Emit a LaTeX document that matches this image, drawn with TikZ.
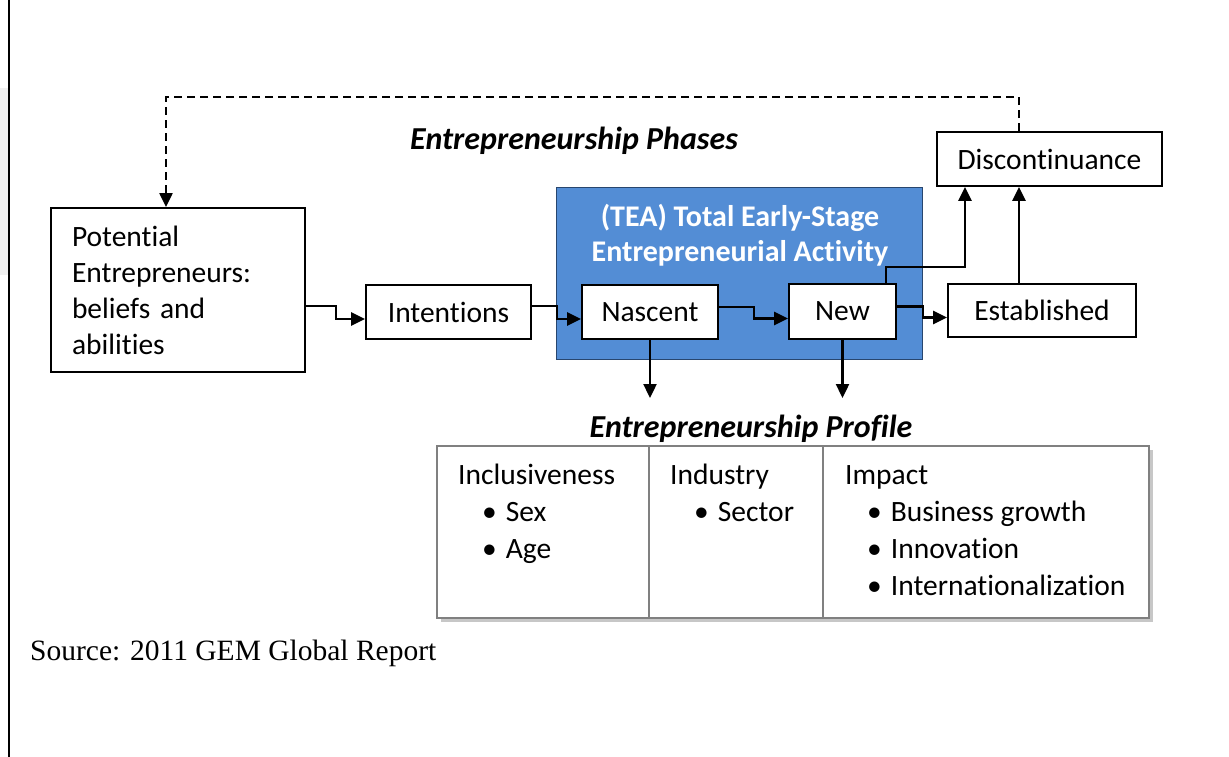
\documentclass[tikz,border=0pt]{standalone}
\usepackage{fontspec}
\setmainfont{Carlito}[Ligatures=NoCommon]
\newfontfamily\srcfont{Liberation Serif}[Ligatures=NoCommon]
\usetikzlibrary{arrows.meta,calc}
\definecolor{teablue}{RGB}{83,141,213}
\definecolor{teaedge}{RGB}{40,70,110}
\tikzset{
  box/.style={draw=black,line width=1.8pt,fill=white,inner sep=0pt,font=\fontsize{29.5}{36}\selectfont},
  arr/.style={line width=2.4pt,-{Triangle[length=14pt,width=13pt]}},
  ttl/.style={font=\fontsize{32}{38}\selectfont\bfseries\itshape,inner sep=0pt},
  ptxt/.style={font=\fontsize{29.5}{36}\selectfont,inner sep=0pt,anchor=base west},
}
\begin{document}
\begin{tikzpicture}[x=1pt,y=-1pt]
\useasboundingbox (0,0) rectangle (1229,757);
\fill[white] (0,0) rectangle (1229,757);
\fill[black!6] (0,88) rectangle (8,275);
\draw[line width=2pt] (9,0) -- (9,757);

% blue TEA box
\node[draw=teaedge,line width=1pt,fill=teablue,minimum width=366pt,minimum height=172pt,inner sep=0pt] (tea) at (739,273) {};
\node[font=\fontsize{30}{35}\selectfont\bfseries,text=white,align=center,inner sep=0pt] (teat) at (740,235) {(TEA) Total Early-Stage\\Entrepreneurial Activity};

\node[ttl] (phases) at (574,141) {Entrepreneurship Phases};

\node[box,minimum width=254pt,minimum height=164pt,text width=212pt,align=left,font=\fontsize{29.5}{36}\selectfont] (pot) at (178,290) {Potential\\Entrepreneurs:\\beliefs and\\abilities};
\node[box,minimum width=165pt,minimum height=54pt] (int) at (448.5,312) {Intentions};
\node[box,minimum width=136pt,minimum height=54pt] (nas) at (650,312) {Nascent};
\node[box,minimum width=107pt,minimum height=55pt] (new) at (842.5,311.5) {New};
\node[box,minimum width=188pt,minimum height=53pt] (est) at (1042,310.5) {Established};
\node[box,minimum width=225pt,minimum height=54pt] (dis) at (1049.5,159) {Discontinuance};

% connectors
\draw[arr] ([yshift=-16pt]pot.east) -- ++(30,0) |- ([yshift=-7pt]int.west);
\draw[arr] ([yshift=6pt]int.east) -- ++(25,0) |- ([yshift=-7pt]nas.west);
\draw[arr] ([yshift=5pt]nas.east) -- ++(35,0) |- ([yshift=-7pt]new.west);
\draw[arr] ([yshift=5pt]new.east) -- ++(26,0) |- ([yshift=-7pt]est.west);
\draw[arr] ([xshift=-11pt]new.north east) -- ++(0,-16) -| ([xshift=-84.5pt]dis.south);
\draw[arr] ([xshift=-23pt]est.north) -- ([xshift=-30.5pt]dis.south);
\coordinate (nd) at (650,398);
\coordinate (wd) at (842.5,398);
\draw[arr] (nas.south) -- (nd);
\draw[arr] (new.south) -- (wd);
\draw[line width=2.2pt,dash pattern=on 8pt off 5pt,-{Triangle[length=14pt,width=13pt]}] ([xshift=-30.5pt]dis.north) -- ++(0,-34) -| ([xshift=-12pt]pot.north);

% profile
\node[ttl] (prof) at (751,429) {Entrepreneurship Profile};
\fill[black!22] (441,450) rectangle (1153,622);
\draw[draw=black!50,line width=2.2pt,fill=white] (437,446) rectangle (1149,618);
\draw[draw=black!50,line width=2.2pt] (649,446) -- (649,618) (823,446) -- (823,618);
\node[ptxt] (inc) at (458,484) {Inclusiveness};
\node[ptxt] (sex) at (482,521) {•\hspace{9pt}Sex};
\node[ptxt] (age) at (482,558) {•\hspace{9pt}Age};
\node[ptxt] (ind) at (670,484) {Industry};
\node[ptxt] (sec) at (694,521) {•\hspace{9pt}Sector};
\node[ptxt] (imp) at (845,484) {Impact};
\node[ptxt] (bg) at (867,521) {•\hspace{9pt}Business growth};
\node[ptxt] (inn) at (867,558) {•\hspace{9pt}Innovation};
\node[ptxt] (intz) at (867,595) {•\hspace{9pt}Internationalization};

\node[font=\srcfont\fontsize{29.5}{34}\selectfont,anchor=base west,inner sep=0pt] (src) at (30,660) {Source: 2011 GEM Global Report};
\end{tikzpicture}
\end{document}
